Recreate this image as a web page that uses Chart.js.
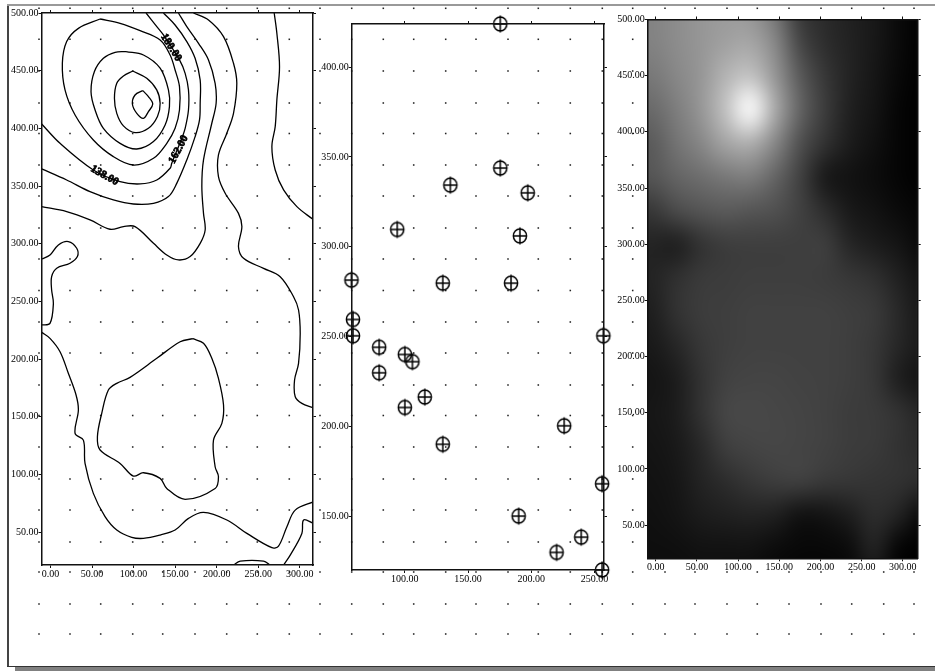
<!DOCTYPE html>
<html>
<head>
<meta charset="utf-8">
<script src="https://cdn.jsdelivr.net/npm/chart.js@4"></script>
<style>
html, body { margin: 0; padding: 0; background: #fff; overflow: hidden; }
#page { position: relative; width: 935px; height: 671px; overflow: hidden; }
canvas { position: absolute; }
.frame { position: absolute; }
</style>
</head>
<body>
<div id="page">
    <canvas id="dotsChart" width="935" height="671" style="left:0;top:0"></canvas>
    <div class="frame" style="left:7px;top:5px;width:2px;height:662px;background:#444"></div>
    <div class="frame" style="left:7px;top:4px;width:928px;height:2px;background:#999"></div>
    <div class="frame" style="left:7px;top:666px;width:928px;height:1px;background:#333"></div>
    <div class="frame" style="left:15px;top:667px;width:920px;height:4px;background:#808080"></div>
    <canvas id="contourChart" width="325" height="600" style="left:0;top:0"></canvas>
    <canvas id="pointChart" width="310" height="600" style="left:310px;top:0"></canvas>
    <canvas id="heatChart" width="325" height="600" style="left:610px;top:0"></canvas>
</div>
<script>
// tick labels
const mapXTicks = [0, 50, 100, 150, 200, 250, 300];
const mapYTicks = [500, 450, 400, 350, 300, 250, 200, 150, 100, 50];
const pointXTicks = [100, 150, 200, 250];
const pointYTicks = [400, 350, 300, 250, 200, 150];

// background dot grid, page pixels
const dotColumns = [39, 70, 100.7, 132.7, 162.7, 195, 226.7, 257.3, 289.3, 320, 351.7, 383.3, 413.7, 445.7, 476, 508, 538.3, 570.3, 602.3, 632.7, 665, 695, 727, 757.3, 789, 821, 851.7, 883.7, 914];
const dotRows = [8.3, 39.3, 71, 103, 133.5, 165, 196, 228, 259, 290.5, 322, 353, 385, 415.5, 447, 479, 510, 542, 572, 604, 634];

// contour lines
const ring0 = [[111.1,432.7],[117.9,427.5],[123.1,421.1],[117.9,414.5],[111.9,408.7],[103.9,413],[98.6,421.1],[101.8,428.9],[111.1,432.7]];
const ring1 = [[99,449.7],[115.9,443.4],[127.9,433.3],[132,421.7],[128.8,410.2],[117.9,400],[101.8,396.3],[87.8,402.1],[79.8,413],[77,426],[79.8,439.1],[87.8,445.4],[99,449.7]];
const ring2 = [[91,466.5],[111.9,463.6],[132,452.1],[142,433.3],[143.2,418.8],[138,402.9],[124,388.5],[103.9,382.1],[83.8,387],[63.7,400],[53.7,415.9],[48.8,431.8],[52.9,449.2],[63.7,460.7],[77.8,465.9],[91,466.5]];
const ring3 = [[59.7,494.8],[83.8,491.1],[107.9,484.7],[132,476.6],[144,463.6],[150,450.6],[155.3,436.2],[155.3,415.9],[150,400],[140,387],[124,374],[99.8,368.2],[75.7,375.5],[51.6,389.9],[29.6,411.6],[17.5,433.3],[14.3,456.4],[19.5,475.2],[33.6,486.7],[59.7,494.8]];
const line4 = [[115.1,500],[128,488.2],[136,481],[155.3,459.3],[162.1,447.7],[166.1,433.3],[166.1,415.9],[162.1,400],[158.1,391.4],[146,369.7],[144,365.4],[128,355.2],[107.9,351.8],[83.8,353.8],[51.6,363.9],[11.5,387],[-10.6,403.8]];
const line5 = [[136,500],[150,489.6],[164.1,475.2],[174.1,460.7],[180.2,441.9],[180.2,421.7],[179.4,407.3],[174.1,392.8],[164.1,372.6],[152,352.3],[142,340.8],[124,335],[99.8,334.4],[75.7,337.9],[47.6,345.1],[19.5,355.2],[-10.6,364.8]];
const line6 = [[154,500],[164.1,488.2],[178.2,473.7],[190.2,459.3],[198.2,439],[199.4,421.7],[194.2,404.4],[184.2,372.6],[182.2,349.5],[184.2,326.3],[186.2,311.9],[180.2,300.3],[168.1,288.8],[154,285.9],[140,290.2],[124,300.3],[101.8,314.8],[87.8,314.8],[71.7,312.5],[47.6,320.6],[19.5,327.8],[-10.6,332.1]];
const line7 = [[172.1,500],[190.2,494],[208.3,479.5],[220.3,456.4],[224.3,439],[220.3,413],[212.3,395.7],[202.2,376.9],[202.2,358.1],[210.3,343.7],[226.3,326.3],[230.4,314.8],[226.3,297.4],[232.4,287.3],[256.5,278.6],[276.5,271.4],[292.6,254],[298.6,242.5],[300.6,222.2],[298.6,196.2],[293.8,181.8],[294.6,167.3],[302.6,161.5],[315.9,157.8]];
const line8 = [[269.3,500],[272.5,482.4],[275.7,453.5],[272.5,424.6],[270.5,401.5],[266.5,384.1],[270.5,363.9],[280.6,346.6],[296.6,332.1],[315.9,321.1]];
const line9 = [[-10.6,286.7],[-0.6,290.2],[9.5,298.9],[21.5,301.8],[31.6,296],[32.4,288.8],[23.5,283],[7.5,278.7],[1.4,271.4],[1.4,259.8],[3.5,248.2],[-0.6,230.9],[-10.6,229.5]];
const line10 = [[-10.6,223.1],[-0.6,217.9],[11.5,206.3],[21.5,187.6],[30.8,168.8],[33.6,155.8],[29.6,135.5],[39.6,129.7],[41.6,109.5],[51.6,83.5],[65.7,63.3],[79.8,51.7],[97.8,45.4],[111.9,44.5],[132,47.4],[150,51.7],[166.1,61.8],[184.2,67],[212.3,60.4],[236.4,48.8],[266.5,36.4],[274.5,37.8],[284.6,54.6],[294.6,69],[316.7,76.3]];
const island = [[171.3,217.6],[184.2,213.6],[194.2,200.6],[202.2,183.2],[208.3,160.1],[206.3,144.2],[196.2,129.7],[198.2,106.6],[202.2,98],[198.2,87.8],[162.1,78.3],[140,87.8],[132,96.5],[111.9,101.4],[99.8,98.5],[83.8,109.5],[59.7,121.1],[56.5,132.6],[61.7,152.9],[69.7,173.1],[79.8,178.9],[95.8,184.1],[128,200.6],[156.1,215],[171.3,217.6]];
const line12 = [[220.3,21.4],[228.4,24.8],[256.5,24.8],[264.5,21.4]];
const line13 = [[280.6,21.4],[288.6,30],[302.6,48.8],[304.7,60.4],[316.7,57.5]];
const contourLines = [ring0, ring1, ring2, ring3, line4, line5, line6, line7, line8, line9, line10, island, line12, line13];

// contour labels
const labelTexts = ['180.00', '162.00', '138.00'];
const labelX = [145.2, 154.2, 65.1];
const labelY = [470.1, 381.7, 359.1];
const labelAngles = [58, -62, 30];

// sample points, middle panel
const sampleX = [175.5,175.5,136,197.2,94,191,57.8,130,184,59,59,257,79.7,100,106,79.7,115.8,100,226,130,256,190,239.5,220,256];
const sampleY = [424,343.8,334.3,330,309.6,306,281.4,279.7,279.7,259.5,250.4,250.4,244,240,236,229.8,216.3,210.5,200.3,190,168,150,138.3,129.8,120];

// grey levels of the right panel, one row per heatY, one column per heatX
const heatX = [-35, -5, 25, 55, 85, 115, 145, 175, 205, 235, 265, 295, 325];
const heatY = [510, 480, 450, 420, 390, 360, 330, 300, 270, 240, 210, 180, 150, 120, 90, 60, 30, 0];
const heatGrey = [
    [130,130,140,150,155,150,115,55,42,32,24,10,0],
    [130,130,140,150,160,165,135,70,45,34,24,10,0],
    [120,120,135,150,180,195,150,90,55,35,22,8,0],
    [105,105,125,150,195,255,170,100,60,32,20,5,0],
    [90,90,115,135,165,175,135,80,50,28,16,5,0],
    [85,85,100,110,120,125,100,65,25,18,12,5,0],
    [55,55,75,85,90,85,80,65,45,25,18,10,5],
    [35,35,30,50,60,62,62,62,62,38,28,20,8],
    [35,35,48,58,60,62,62,62,60,55,48,32,18],
    [30,30,50,60,62,65,65,65,65,62,58,40,22],
    [25,25,38,55,62,65,65,65,65,62,55,38,24],
    [20,20,28,50,65,68,68,66,65,62,55,30,18],
    [22,22,28,50,70,72,70,68,65,60,58,50,35],
    [20,20,25,40,62,68,70,68,65,60,58,50,42],
    [18,18,22,35,45,55,62,65,58,55,52,50,45],
    [16,16,20,28,32,35,32,18,20,30,45,35,8],
    [14,14,15,18,18,18,12,8,8,12,35,5,0],
    [12,12,12,14,14,12,8,5,5,8,20,2,0]
];

const tickFont = { family: '"Liberation Serif"', size: 10 };

// builds the four scales of a panel, plot edges are given in canvas pixels
function panelScales(box, xRange, yRange, xTicks, yTicks) {
    const setTicks = values => (scale => { scale.ticks = values.map(v => ({ value: v })); });
    const line = { color: '#111', width: 1.5, z: 1 };
    const marks = { drawOnChartArea: false, tickLength: 3, tickColor: '#111', tickWidth: 1 };
    const label = { font: tickFont, color: '#000', autoSkip: false, maxRotation: 0, callback: v => v.toFixed(2) };
    return {
        x: { type: 'linear', position: 'bottom', min: xRange[0], max: xRange[1], border: line, grid: marks,
            ticks: Object.assign({ padding: 0 }, label), afterBuildTicks: setTicks(xTicks),
            afterFit: s => { s.height = box.h - box.bottom; } },
        y: { type: 'linear', position: 'left', min: yRange[0], max: yRange[1], border: line, grid: marks,
            ticks: Object.assign({ padding: 0 }, label), afterBuildTicks: setTicks(yTicks),
            afterFit: s => { s.width = box.left; } },
        xTop: { type: 'linear', position: 'top', min: xRange[0], max: xRange[1], border: line, grid: marks,
            ticks: { display: false }, afterBuildTicks: setTicks(xTicks),
            afterFit: s => { s.height = box.top; } },
        yRight: { type: 'linear', position: 'right', min: yRange[0], max: yRange[1], border: line, grid: marks,
            ticks: { display: false }, afterBuildTicks: setTicks(yTicks),
            afterFit: s => { s.width = box.w - box.right; } }
    };
}

function baseOptions(scales) {
    return {
        responsive: false,
        animation: false,
        layout: { padding: 0, autoPadding: false },
        plugins: { legend: { display: false }, tooltip: { enabled: false } },
        scales: scales
    };
}

// background dots
const dotData = [];
dotRows.forEach(r => dotColumns.forEach(c => dotData.push({ x: c, y: r })));
new Chart(document.getElementById('dotsChart'), {
    type: 'scatter',
    data: { datasets: [{ data: dotData, pointStyle: 'rect', pointRadius: 1.1, pointBackgroundColor: '#222', pointBorderWidth: 0 }] },
    options: baseOptions({
        x: { type: 'linear', min: 0, max: 935, display: false },
        y: { type: 'linear', min: 0, max: 671, reverse: true, display: false }
    })
});

// rotated labels sitting on the contours
const contourLabelPlugin = {
    id: 'contourLabels',
    afterDatasetsDraw(chart) {
        const ctx = chart.ctx;
        ctx.save();
        ctx.font = 'bold 11px "Liberation Serif"';
        ctx.fillStyle = '#000';
        ctx.strokeStyle = '#000';
        ctx.lineWidth = 0.7;
        ctx.textAlign = 'center';
        ctx.textBaseline = 'middle';
        labelTexts.forEach((t, i) => {
            ctx.save();
            ctx.translate(chart.scales.x.getPixelForValue(labelX[i]), chart.scales.y.getPixelForValue(labelY[i]));
            ctx.rotate(labelAngles[i] * Math.PI / 180);
            ctx.fillText(t, 0, 0);
            ctx.strokeText(t, 0, 0);
            ctx.restore();
        });
        ctx.restore();
    }
};

new Chart(document.getElementById('contourChart'), {
    type: 'scatter',
    data: {
        datasets: contourLines.map(c => ({
            data: c.map(p => ({ x: p[0], y: p[1] })),
            showLine: true,
            borderColor: '#000',
            borderWidth: 1.3,
            tension: 0.35,
            pointRadius: 0
        }))
    },
    options: baseOptions(panelScales({ left: 41.5, top: 13, right: 313, bottom: 565, w: 325, h: 600 }, [-10.8, 316], [21.4, 500], mapXTicks, mapYTicks)),
    plugins: [contourLabelPlugin]
});

// circle with a cross, used as the point style of the middle panel
function crossMarker() {
    const c = document.createElement('canvas');
    c.width = 20;
    c.height = 20;
    const g = c.getContext('2d');
    g.strokeStyle = '#000';
    g.lineWidth = 1.5;
    g.beginPath();
    g.ellipse(10, 10, 6.6, 7, 0, 0, Math.PI * 2);
    g.moveTo(3.4, 10);
    g.lineTo(16.6, 10);
    g.moveTo(10, 1.5);
    g.lineTo(10, 18.5);
    g.stroke();
    return c;
}

new Chart(document.getElementById('pointChart'), {
    type: 'scatter',
    data: {
        datasets: [{
            data: sampleX.map((v, i) => ({ x: v, y: sampleY[i] })),
            pointStyle: crossMarker(),
            clip: false
        }]
    },
    options: baseOptions(panelScales({ left: 41.7, top: 24, right: 294, bottom: 570, w: 310, h: 600 }, [58, 257.5], [120, 424], pointXTicks, pointYTicks))
});

// grey image stretched between the outer grid nodes through the scales
const heatImagePlugin = {
    id: 'heatImage',
    beforeDatasetsDraw(chart) {
        const small = document.createElement('canvas');
        small.width = heatX.length;
        small.height = heatY.length;
        const g = small.getContext('2d');
        heatGrey.forEach((row, j) => row.forEach((v, i) => {
            g.fillStyle = `rgb(${v},${v},${v})`;
            g.fillRect(i, j, 1, 1);
        }));
        const a = chart.chartArea;
        const x0 = chart.scales.x.getPixelForValue(heatX[0]);
        const x1 = chart.scales.x.getPixelForValue(heatX[heatX.length - 1]);
        const y0 = chart.scales.y.getPixelForValue(heatY[0]);
        const y1 = chart.scales.y.getPixelForValue(heatY[heatY.length - 1]);
        const ctx = chart.ctx;
        ctx.save();
        ctx.beginPath();
        ctx.rect(a.left, a.top, a.right - a.left, a.bottom - a.top);
        ctx.clip();
        ctx.imageSmoothingEnabled = true;
        ctx.imageSmoothingQuality = 'high';
        ctx.filter = 'blur(3px)';
        ctx.drawImage(small, 0.5, 0.5, heatX.length - 1, heatY.length - 1, x0, y0, x1 - x0, y1 - y0);
        ctx.restore();
    }
};

new Chart(document.getElementById('heatChart'), {
    type: 'scatter',
    data: { datasets: [{ data: [] }] },
    options: baseOptions(panelScales({ left: 37.7, top: 19.5, right: 307.7, bottom: 558.3, w: 325, h: 600 }, [-9.7, 318], [20.5, 500], mapXTicks, mapYTicks)),
    plugins: [heatImagePlugin]
});
</script>
</body>
</html>
